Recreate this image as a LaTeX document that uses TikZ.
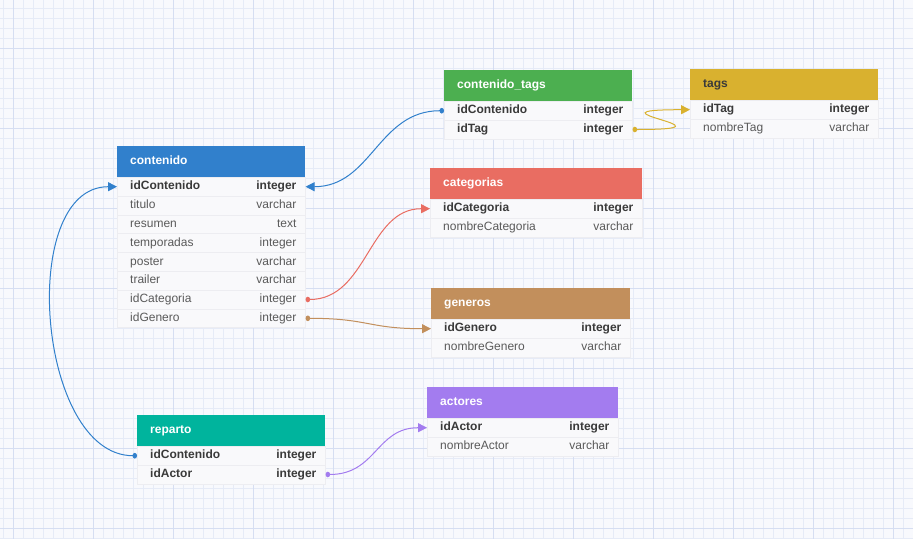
\documentclass[tikz,border=0pt]{standalone}
\usepackage{fontspec}
\setmainfont{Liberation Sans}
\usetikzlibrary{arrows.meta}
\definecolor{bg}{HTML}{F8F9FD}
\definecolor{gridminor}{HTML}{E6EBF7}
\definecolor{gridmajor}{HTML}{D6DEF2}
\definecolor{cblue}{HTML}{3180CC}
\definecolor{cgreen}{HTML}{4CAF50}
\definecolor{cmust}{HTML}{D9B12F}
\definecolor{cred}{HTML}{E96D62}
\definecolor{cbrown}{HTML}{C28F5C}
\definecolor{cpurple}{HTML}{A37CEF}
\definecolor{cteal}{HTML}{00B49D}
\definecolor{bodyfill}{HTML}{F9F9FB}
\definecolor{sepline}{HTML}{EDEDF1}
\definecolor{txtb}{HTML}{3A3A3A}
\definecolor{txtn}{HTML}{5A5A5A}
\definecolor{hdrdark}{HTML}{3A3A3A}
\tikzset{
  hdr/.style={rectangle, minimum height=31pt, inner sep=0pt, draw=none},
  rowbox/.style={rectangle, minimum height=18.8pt, inner sep=0pt, fill=bodyfill, draw=sepline, line width=0.6pt},
  field/.style={anchor=west, inner sep=0pt, text height=9pt, text depth=2.6pt},
  ftype/.style={anchor=east, inner sep=0pt, text height=9pt, text depth=2.6pt},
  conn/.style={line width=1pt, {Circle[length=4.5pt,width=5.5pt]}-{Triangle[length=9pt,width=9pt]}},
  gminor/.style={gridminor, line width=0.5pt},
  gmajor/.style={gridmajor, line width=0.7pt}
}
\newcommand\dbtable[8]{%
  \node[hdr, fill=#5, minimum width=#4pt, anchor=north west] (#1-h) at (#2,#3) {};
  \node[anchor=west, text=#6, font=\fontsize{12}{14}\selectfont\bfseries, inner sep=0pt, text height=9pt, text depth=2.6pt] (#1-title) at ([xshift=13pt]#1-h.west) {#7};
  \foreach \rs/\rf/\rt [count=\ri] in {#8}{
    \if b\rs \def\ff{\bfseries}\def\fc{txtb}\else\def\ff{}\def\fc{txtn}\fi
    \node[rowbox, minimum width=#4pt, anchor=north west] (#1-\ri) at (#2,{#3+31+(\ri-1)*18.8}) {};
    \node[field, text=\fc, font=\fontsize{12}{14}\selectfont\ff] (#1-\ri-f) at ([xshift=13pt]#1-\ri.west) {\rf};
    \node[ftype, text=\fc, font=\fontsize{12}{14}\selectfont\ff] (#1-\ri-t) at ([xshift=-9pt]#1-\ri.east) {\rt};
  }
}
\begin{document}
\begin{tikzpicture}[x=1pt,y=-1pt]
\useasboundingbox (0,0) rectangle (913,539);
\fill[bg] (0,0) rectangle (913,539);
\foreach \gx in {3.3,13.3,...,913} \draw[gminor] (\gx,0) -- (\gx,539);
\foreach \gy in {8.3,18.3,...,539} \draw[gminor] (0,\gy) -- (913,\gy);
\foreach \gx in {13.3,93.3,...,913} \draw[gmajor] (\gx,0) -- (\gx,539);
\foreach \gy in {48.3,128.3,...,539} \draw[gmajor] (0,\gy) -- (913,\gy);

\dbtable{cont}{117}{146}{188}{cblue}{white}{contenido}{b/idContenido/integer, n/titulo/varchar, n/resumen/text, n/temporadas/integer, n/poster/varchar, n/trailer/varchar, n/idCategoria/integer, n/idGenero/integer}
\dbtable{ctags}{444}{70}{188}{cgreen}{white}{contenido\_tags}{b/idContenido/integer, b/idTag/integer}
\dbtable{tags}{690}{69}{188}{cmust}{hdrdark}{tags}{b/idTag/integer, n/nombreTag/varchar}
\dbtable{cat}{430}{168}{212}{cred}{white}{categorias}{b/idCategoria/integer, n/nombreCategoria/varchar}
\dbtable{gen}{431}{288}{199}{cbrown}{white}{generos}{b/idGenero/integer, n/nombreGenero/varchar}
\dbtable{act}{427}{387}{191}{cpurple}{white}{actores}{b/idActor/integer, n/nombreActor/varchar}
\dbtable{rep}{137}{415}{188}{cteal}{white}{reparto}{b/idContenido/integer, b/idActor/integer}

\draw[conn, cblue] (ctags-1.west) .. controls +(-66,0) and +(66,0) .. (cont-1.east);
\draw[conn, cmust] (ctags-2.east) .. controls +(115,0) and +(-115,0) .. (tags-1.west);
\draw[conn, cred] (cont-7.east) .. controls +(62,0) and +(-62,0) .. (cat-1.west);
\draw[conn, cbrown] (cont-8.east) .. controls +(63,0) and +(-63,0) .. (gen-1.west);
\draw[conn, cblue] (rep-1.west) .. controls +(-100,0) and +(-100,0) .. (cont-1.west);
\draw[conn, cpurple] (rep-2.east) .. controls +(51,0) and +(-51,0) .. (act-1.west);
\end{tikzpicture}
\end{document}
